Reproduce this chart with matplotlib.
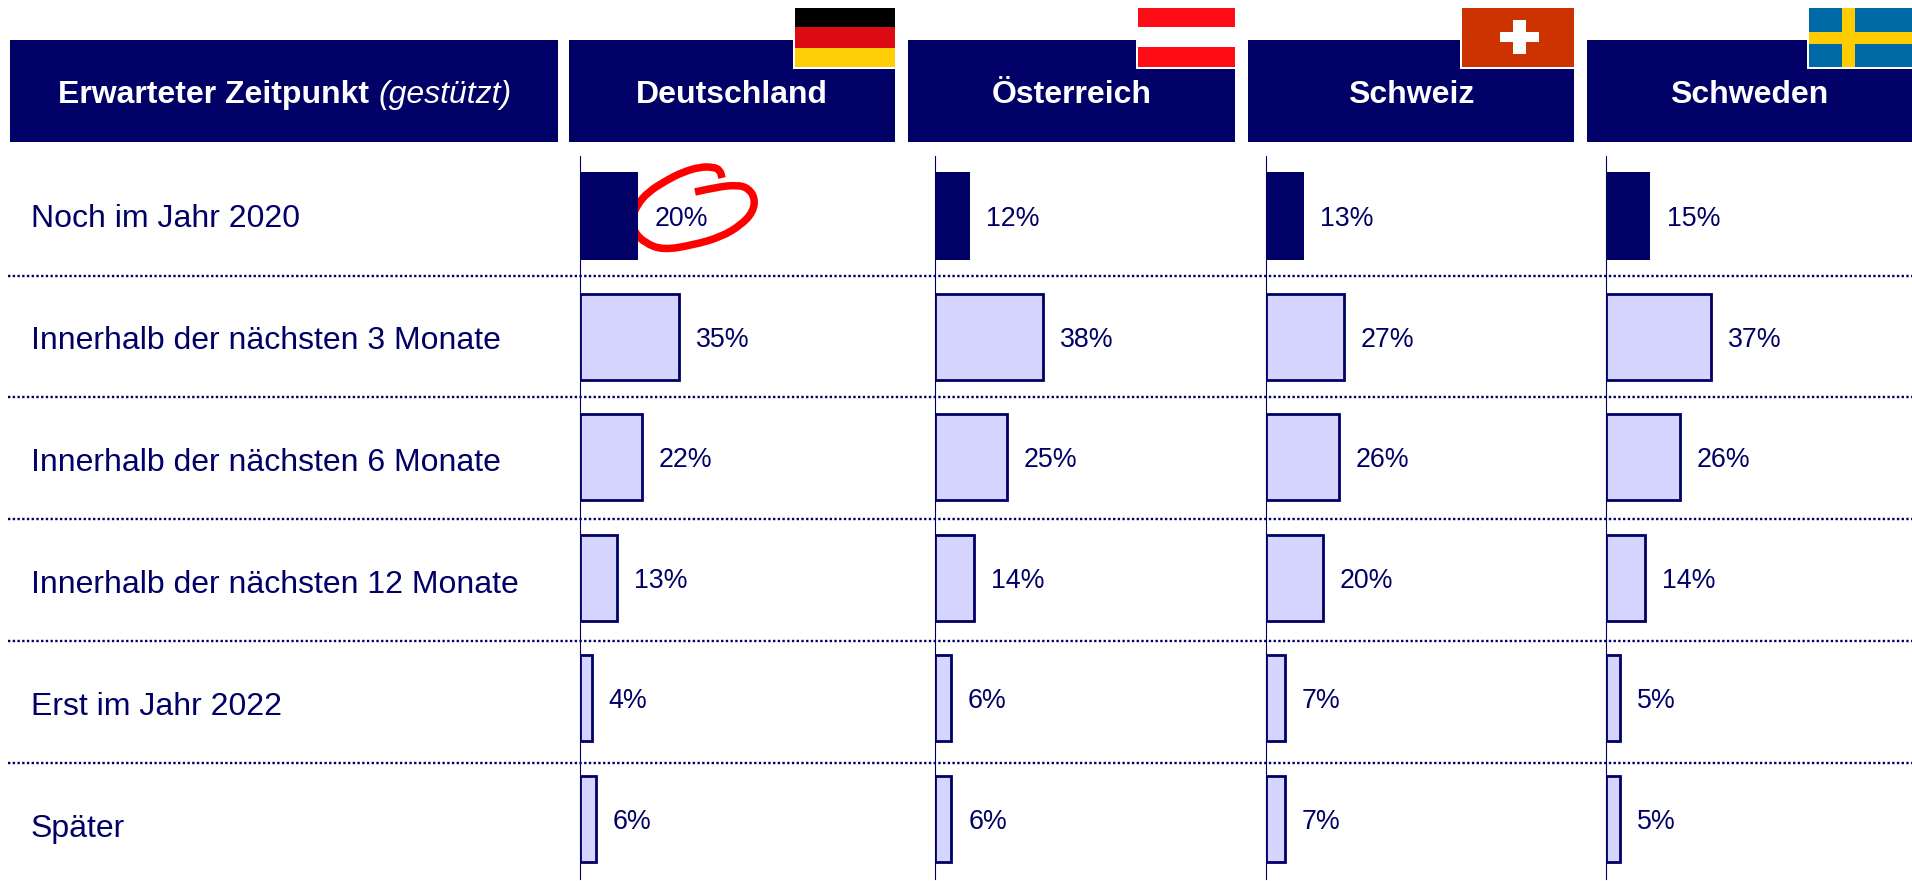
import matplotlib.pyplot as plt
from matplotlib.patches import PathPatch, Rectangle
from matplotlib.path import Path

plt.rcParams['font.family'] = ['Liberation Sans', 'DejaVu Sans']

NAVY = '#000066'
LIGHT = '#D5D5FF'
W, H = 1912, 881

row_labels = ['Noch im Jahr 2020', 'Innerhalb der nächsten 3 Monate', 'Innerhalb der nächsten 6 Monate',
              'Innerhalb der nächsten 12 Monate', 'Erst im Jahr 2022', 'Später']
countries = ['Deutschland', 'Österreich', 'Schweiz', 'Schweden']
deutschland = [20.4, 34.7, 21.6, 13.0, 4.2, 5.6]
oesterreich = [12.2, 37.7, 25.0, 13.8, 5.6, 5.9]
schweiz = [13.3, 27.1, 25.6, 19.8, 6.8, 6.6]
schweden = [15.3, 36.6, 25.6, 13.6, 4.9, 4.9]

header_x = [(569, 895), (908, 1235), (1248, 1574), (1587, 1912)]
axis_x = [579.5, 934.5, 1265.5, 1606]
row_y = [219, 341, 463, 585, 707, 829]
sep_y = [276, 397, 519, 641, 763]
px_per_pct = 2.88

fig = plt.figure(figsize=(W / 100, H / 100), dpi=100)
bg = fig.add_axes([0, 0, 1, 1])
bg.set_xlim(0, W)
bg.set_ylim(H, 0)
bg.axis('off')

# headers
bg.add_patch(Rectangle((10, 39.5), 548, 102.5, color=NAVY, lw=0))
bg.text(58, 95, 'Erwarteter Zeitpunkt', color='white', fontsize=23, fontweight='bold', ha='left', va='center')
bg.text(379, 95, '(gestützt)', color='white', fontsize=23, style='italic', ha='left', va='center')
for (x0, x1), name in zip(header_x, countries):
    bg.add_patch(Rectangle((x0, 39.5), x1 - x0, 102.5, color=NAVY, lw=0))
    bg.text((x0 + x1) / 2, 95, name, color='white', fontsize=23, fontweight='bold', ha='center', va='center')


def flag_box(x0, x1):
    bg.add_patch(Rectangle((x0 - 2, 8), x1 - x0 + 2, 61, color='white', lw=0, zorder=3))


# flags
flag_box(795, 895)
for y, h, c in [(8, 19, '#000000'), (27, 21, '#DD0C13'), (48, 19, '#FFCE05')]:
    bg.add_patch(Rectangle((795, y), 100, h, color=c, lw=0, zorder=4))
flag_box(1138, 1235)
for y, h, c in [(8, 19, '#FF0D17'), (27, 20, '#FFFFFF'), (47, 20, '#FF0D17')]:
    bg.add_patch(Rectangle((1138, y), 97, h, color=c, lw=0, zorder=4))
flag_box(1462, 1574)
bg.add_patch(Rectangle((1462, 8), 112, 59, color='#CC3300', lw=0, zorder=4))
bg.add_patch(Rectangle((1500, 32), 39, 10, color='white', lw=0, zorder=5))
bg.add_patch(Rectangle((1513, 20), 13, 34, color='white', lw=0, zorder=5))
flag_box(1809, 1912)
bg.add_patch(Rectangle((1809, 8), 103, 59, color='#006AA7', lw=0, zorder=4))
bg.add_patch(Rectangle((1842, 8), 13, 59, color='#FECC00', lw=0, zorder=5))
bg.add_patch(Rectangle((1809, 32), 103, 12, color='#FECC00', lw=0, zorder=5))

for y, label in zip(row_y, row_labels):
    bg.text(31, y, label, color=NAVY, fontsize=23, ha='left', va='center')
for y in sep_y:
    bg.plot([8, W], [y, y], color=NAVY, lw=1.7, ls=(0, (1, 1)))

# one axes per country, x is in percent
for x0, vals in zip(axis_x, [deutschland, oesterreich, schweiz, schweden]):
    ax = fig.add_axes([x0 / W, 1 - 879 / H, 300 / W, (879 - 156) / H])
    ax.patch.set_alpha(0)
    ax.set_xlim(0, 300 / px_per_pct)
    ax.set_ylim(5.5, -0.5)
    ax.barh(range(1, 6), vals[1:], height=0.71, color=LIGHT, edgecolor=NAVY, lw=2)
    ax.barh([0], vals[:1], height=0.73, color=NAVY, lw=0)
    for i, v in enumerate(vals):
        ax.annotate(f'{v:.0f}%', (v, i), xytext=(12, -2), textcoords='offset points', color=NAVY,
                    fontsize=19.3, ha='left', va='center')
    for s in ['top', 'right', 'bottom']:
        ax.spines[s].set_visible(False)
    ax.spines['left'].set_color(NAVY)
    ax.spines['left'].set_linewidth(0.8)
    ax.set_xticks([])
    ax.set_yticks([])

# hand-drawn red circle around the 20 %
circle = [(695, 192), (717, 187), (737, 185), (748, 188), (755, 198), (753, 212), (741, 225),
          (721, 237), (693, 245), (663, 250), (645, 243), (634, 232), (632, 218), (637, 205),
          (648, 192), (667, 180), (683, 172), (700, 167), (713, 167), (720, 170), (722, 178)]
verts = [circle[0]]
codes = [Path.MOVETO]
for a, b in zip(circle[1:-1], circle[2:]):
    verts += [a, ((a[0] + b[0]) / 2, (a[1] + b[1]) / 2)]
    codes += [Path.CURVE3, Path.CURVE3]
verts.append(circle[-1])
codes.append(Path.LINETO)
bg.add_patch(PathPatch(Path(verts, codes), fill=False, edgecolor='#FF0000', lw=5.4, zorder=6, capstyle='butt'))

fig.savefig('out.png', dpi=100)
